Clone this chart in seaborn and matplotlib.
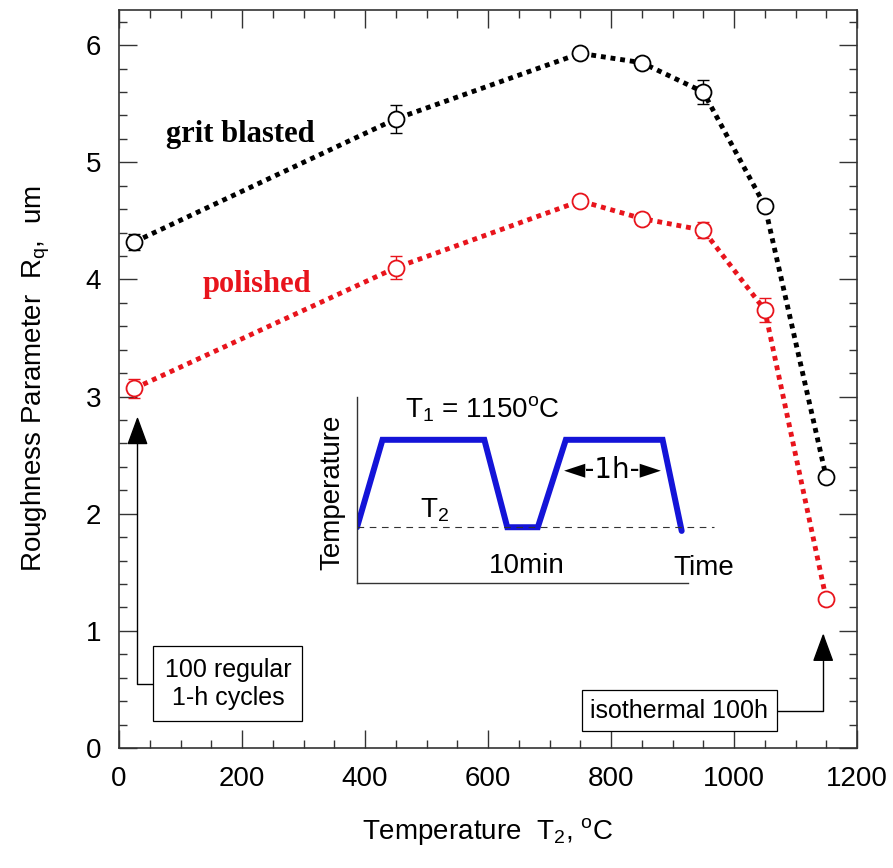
import numpy as np
import pandas as pd
import matplotlib
matplotlib.use("Agg")
import matplotlib.pyplot as plt
from matplotlib.ticker import MultipleLocator
import seaborn as sns

# data
temp_t2 = [25, 450, 750, 850, 950, 1050, 1150]
rq_grit = [4.32, 5.37, 5.93, 5.85, 5.60, 4.63, 2.31]
err_grit = [0.07, 0.12, 0.03, 0.03, 0.10, 0.03, 0.05]
rq_polished = [3.07, 4.10, 4.67, 4.52, 4.42, 3.74, 1.27]
err_polished = [0.08, 0.10, 0.04, 0.05, 0.07, 0.10, 0.03]

# schematic of the thermal cycle (inset, arbitrary units)
cycle_time = [0, 10, 50, 59, 71, 82, 120, 127.5]
cycle_temp = [0.30, 0.77, 0.77, 0.30, 0.30, 0.77, 0.77, 0.28]
t2_level = 0.30

sns.set_style("ticks")
plt.rcParams["font.family"] = ["Liberation Sans", "DejaVu Sans"]
plt.rcParams["mathtext.fontset"] = "custom"
plt.rcParams["mathtext.rm"] = "Liberation Sans"
plt.rcParams["mathtext.it"] = "Liberation Sans"
plt.rcParams["text.color"] = "black"
plt.rcParams["axes.labelcolor"] = "black"
plt.rcParams["xtick.labelcolor"] = "black"
plt.rcParams["ytick.labelcolor"] = "black"

df = pd.DataFrame({
    "T2": temp_t2 * 2,
    "Rq": rq_grit + rq_polished,
    "err": err_grit + err_polished,
    "surface": ["grit blasted"] * len(temp_t2) + ["polished"] * len(temp_t2),
})
colors = {"grit blasted": "black", "polished": "#e8141c"}

fig = plt.figure(figsize=(8.93, 8.68), dpi=100)
ax = fig.add_axes([0.1333, 0.1382, 0.8264, 0.8503])

for name, sub in df.groupby("surface"):
    c = colors[name]
    ax.errorbar(sub["T2"], sub["Rq"], yerr=sub["err"], fmt="none",
                ecolor=c, elinewidth=1, capsize=4.5, capthick=1, zorder=2)
    sns.lineplot(data=sub, x="T2", y="Rq", ax=ax, color=c, lw=3.5,
                 linestyle=(0, (1, 1)), marker="o", markersize=11.5,
                 markerfacecolor="white", markeredgecolor=c,
                 markeredgewidth=1.3, zorder=3, legend=False)

ax.set_xlim(0, 1200)
ax.set_ylim(0, 6.3)
ax.xaxis.set_major_locator(MultipleLocator(200))
ax.xaxis.set_minor_locator(MultipleLocator(50))
ax.yaxis.set_major_locator(MultipleLocator(1))
ax.yaxis.set_minor_locator(MultipleLocator(0.2))
ax.tick_params(which="both", direction="in", top=True, right=True,
               width=1, color="#333333", labelsize=20, pad=13)
ax.tick_params(which="major", length=13)
ax.tick_params(which="minor", length=6)
for s in ax.spines.values():
    s.set_linewidth(1.2)
    s.set_color("#333333")

ax.set_xlabel("Temperature  T$_2$, $^{\\rm o}$C", fontsize=20, labelpad=17)
ax.set_ylabel("Roughness Parameter  R$_q$,  um", fontsize=20, labelpad=24)

ax.text(198, 5.24, "grit blasted", family="Liberation Serif", weight="bold",
        fontsize=22, ha="center", va="center", color="black")
ax.text(224, 3.96, "polished", family="Liberation Serif", weight="bold",
        fontsize=22, ha="center", va="center", color=colors["polished"])

arrow = dict(arrowstyle="-|>,head_length=0.9,head_width=0.33", color="black",
             lw=1, shrinkA=0, shrinkB=0, mutation_scale=20,
             connectionstyle="angle,angleA=0,angleB=90,rad=0")
box = dict(boxstyle="square,pad=0.45", fc="white", ec="black", lw=0.9)
ax.annotate("100 regular\n1-h cycles", xy=(30, 2.83), xytext=(177, 0.55),
            fontsize=18, ha="center", va="center", multialignment="center",
            bbox=box, arrowprops=arrow)
ax.annotate("isothermal 100h", xy=(1145, 0.98), xytext=(911, 0.32),
            fontsize=18, ha="center", va="center",
            bbox=dict(box, boxstyle="square,pad=0.35"), arrowprops=arrow)

# inset: thermal cycle schematic
ins = fig.add_axes([0.3998, 0.3283, 0.3707, 0.2143])
ins.patch.set_alpha(0)
ins.plot(cycle_time, cycle_temp, color="#1414d8", lw=4.3, solid_joinstyle="miter")
ins.plot([0, 140], [t2_level, t2_level], color="#333333", lw=0.8,
         linestyle=(0, (6, 5)), clip_on=False)
ins.set_xlim(0, 130)
ins.set_ylim(0, 1)
ins.set_xticks([])
ins.set_yticks([])
for side in ["top", "right"]:
    ins.spines[side].set_visible(False)
for side in ["left", "bottom"]:
    ins.spines[side].set_linewidth(1)
    ins.spines[side].set_color("#333333")
ins.text(19, 0.89, "T$_1$ = 1150$^{\\rm o}$C", fontsize=20, va="baseline")
ins.text(24.7, 0.355, "T$_2$", fontsize=20, va="baseline")
ins.text(66.8, 0.054, "10min", fontsize=20, ha="center", va="baseline")
ins.text(136, 0.043, "Time", fontsize=20, ha="center", va="baseline", clip_on=False)
ins.text(-9.8, 0.49, "Temperature", fontsize=20, rotation=90,
         ha="center", va="center")
ins.text(100.5, 0.61, "\u25c4-1h-\u25ba", fontsize=20, ha="center", va="center",
         family=["DejaVu Sans"])

fig.savefig("out.png", dpi=100)
